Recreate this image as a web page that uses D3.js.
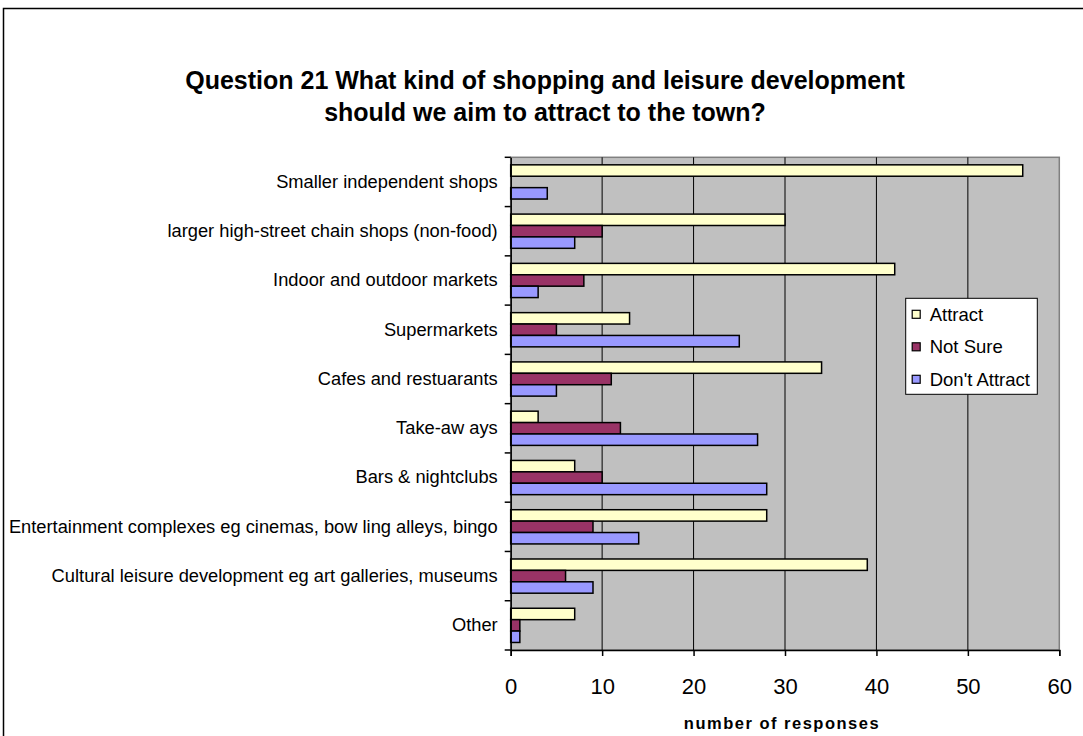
<!DOCTYPE html>
<html>
<head>
<meta charset="utf-8">
<script src="https://cdn.jsdelivr.net/npm/d3@7"></script>
<style>
  html, body { margin: 0; padding: 0; background: #fff; }
  svg { display: block; font-family: Arial, "Liberation Sans", sans-serif; }
</style>
</head>
<body>
<svg id="chart" width="1083" height="736"></svg>
<script>
// Survey answers, question 21
const categories = [
  "Smaller independent shops",
  "larger high-street chain shops (non-food)",
  "Indoor and outdoor markets",
  "Supermarkets",
  "Cafes and restuarants",
  "Take-aw ays",
  "Bars & nightclubs",
  "Entertainment complexes eg cinemas, bow ling alleys, bingo",
  "Cultural leisure development eg art galleries, museums",
  "Other"
];
const seriesNames = ["Attract", "Not Sure", "Don't Attract"];
const attract      = [56, 30, 42, 13, 34, 3, 7, 28, 39, 7];
const notSure      = [0, 10, 8, 5, 11, 12, 10, 9, 6, 1];
const dontAttract  = [4, 7, 3, 25, 5, 27, 28, 14, 9, 1];
const xTicks = [0, 10, 20, 30, 40, 50, 60];
const colors = ["#FFFFCC", "#993366", "#9999FF"];

const seriesValues = [attract, notSure, dontAttract];

const svg = d3.select("#chart");

// chart frame
svg.append("path")
  .attr("d", "M3.5,736 L3.5,8.5 L1083,8.5")
  .attr("fill", "none").attr("stroke", "#000").attr("stroke-width", 1.5);

// title
const title = svg.append("text")
  .attr("text-anchor", "middle")
  .attr("font-weight", "bold")
  .attr("font-size", 25)
  .attr("fill", "#000");
title.append("tspan").attr("x", 545).attr("y", 89).text("Question 21 What kind of shopping and leisure development");
title.append("tspan").attr("x", 545).attr("y", 121).text("should we aim to attract to the town?");

const plot = { left: 510.7, right: 1059.3, top: 157.3, bottom: 650 };

const x = d3.scaleLinear().domain([0, 60]).range([plot.left, plot.right]);
const y = d3.scaleBand().domain(categories).range([plot.top, plot.bottom]).padding(0);
const ySub = d3.scaleBand().domain(seriesNames).range([0, y.bandwidth()])
  .paddingInner(0).paddingOuter(0.66);

// plot background
svg.append("rect")
  .attr("x", plot.left).attr("y", plot.top)
  .attr("width", plot.right - plot.left).attr("height", plot.bottom - plot.top)
  .attr("fill", "#C0C0C0").attr("stroke", "#808080").attr("stroke-width", 1.5);

// vertical gridlines
svg.append("g").selectAll("line")
  .data(xTicks.filter(t => t > 0 && t < 60))
  .join("line")
  .attr("x1", d => x(d)).attr("x2", d => x(d))
  .attr("y1", plot.top).attr("y2", plot.bottom)
  .attr("stroke", "#000").attr("stroke-width", 1);

// bars
const rows = categories.map((c, i) => ({
  cat: c,
  vals: seriesNames.map((s, j) => ({ series: s, value: seriesValues[j][i], color: colors[j] }))
}));

const groups = svg.append("g").selectAll("g")
  .data(rows).join("g")
  .attr("transform", d => `translate(0,${y(d.cat)})`);

groups.selectAll("rect")
  .data(d => d.vals.filter(v => v.value > 0))
  .join("rect")
  .attr("x", x(0))
  .attr("y", d => ySub(d.series))
  .attr("width", d => x(d.value) - x(0))
  .attr("height", ySub.bandwidth())
  .attr("fill", d => d.color)
  .attr("stroke", "#000").attr("stroke-width", 1.5);

// x axis
const xAxis = d3.axisBottom(x).tickValues(xTicks).tickSize(6).tickPadding(22);
const gx = svg.append("g").attr("transform", `translate(0,${plot.bottom})`).call(xAxis);
gx.select(".domain").attr("stroke", "#000").attr("stroke-width", 1.5);
gx.selectAll(".tick line").attr("stroke", "#000").attr("stroke-width", 1.5);
gx.selectAll(".tick text")
  .attr("font-size", 22).attr("fill", "#000")
  .attr("font-family", "Arial, 'Liberation Sans', sans-serif");

// y axis: ticks between categories
const yAxis = d3.axisLeft(y).tickSize(0).tickPadding(13);
const gy = svg.append("g").attr("transform", `translate(${plot.left},0)`).call(yAxis);
gy.select(".domain").attr("stroke", "#000").attr("stroke-width", 1.5);
gy.selectAll(".tick text")
  .attr("font-size", 18.3).attr("fill", "#000")
  .attr("font-family", "Arial, 'Liberation Sans', sans-serif");
const boundaries = categories.map(c => y(c)).concat([plot.bottom]);
svg.append("g").selectAll("line")
  .data(boundaries).join("line")
  .attr("x1", plot.left - 6).attr("x2", plot.left)
  .attr("y1", d => d).attr("y2", d => d)
  .attr("stroke", "#000").attr("stroke-width", 1.5);

// axis title
svg.append("text")
  .attr("x", (plot.left + plot.right) / 2 - 3)
  .attr("y", 729)
  .attr("text-anchor", "middle")
  .attr("font-weight", "bold")
  .attr("font-size", 16.5)
  .attr("letter-spacing", 1.5)
  .text("number of responses");

// legend
const legend = svg.append("g").attr("transform", "translate(905.7,298.3)");
legend.append("rect")
  .attr("width", 131.6).attr("height", 96)
  .attr("fill", "#fff").attr("stroke", "#000").attr("stroke-width", 1);
const items = legend.selectAll("g.item")
  .data(seriesNames).join("g")
  .attr("class", "item")
  .attr("transform", (d, i) => `translate(0,${16 + i * 32.5})`);
items.append("rect")
  .attr("x", 6.5).attr("y", -4).attr("width", 8).attr("height", 8)
  .attr("fill", (d, i) => colors[i]).attr("stroke", "#000").attr("stroke-width", 1.2);
items.append("text")
  .attr("x", 24).attr("y", 0).attr("dy", "0.35em")
  .attr("font-size", 18.5).attr("fill", "#000")
  .text(d => d);
</script>
</body>
</html>
